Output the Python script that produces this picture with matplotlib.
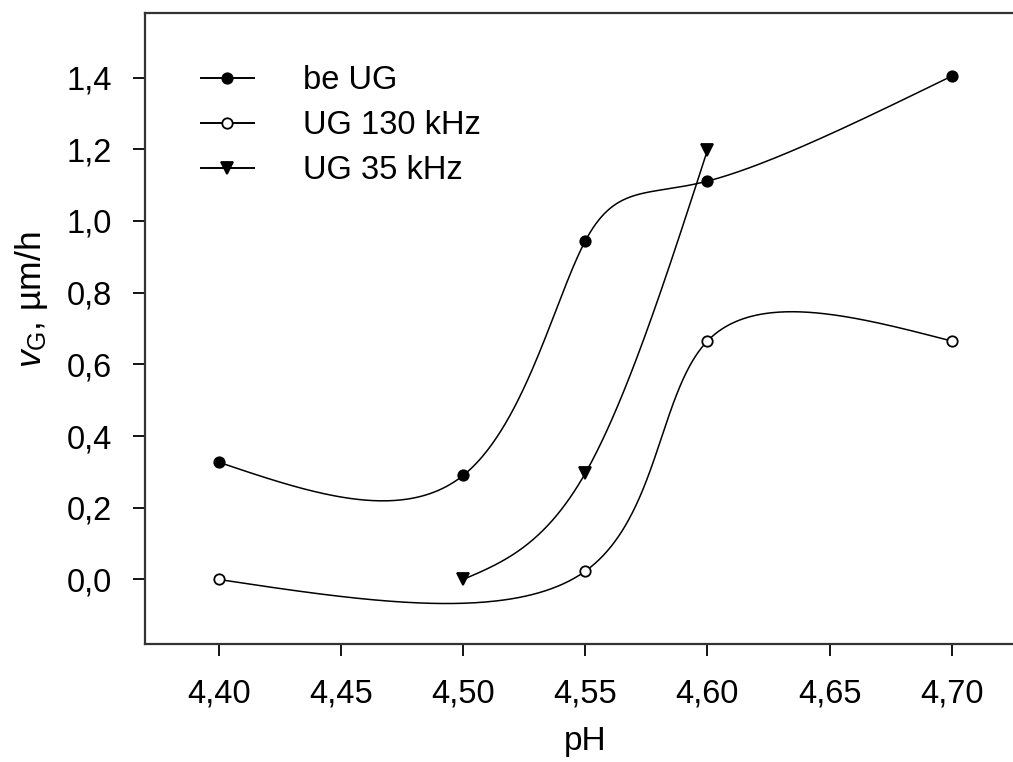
import numpy as np
import matplotlib
matplotlib.use("Agg")
import matplotlib.pyplot as plt
from matplotlib.ticker import FixedLocator, FixedFormatter

plt.rcParams['font.family'] = ['Liberation Sans', 'DejaVu Sans']
plt.rcParams['mathtext.fontset'] = 'custom'
plt.rcParams['mathtext.rm'] = 'Liberation Sans'
plt.rcParams['mathtext.it'] = 'Liberation Sans:italic'

# Growth rate versus pH for the three conditions
ph_be = [4.40, 4.50, 4.55, 4.60, 4.70]
v_be = [0.327, 0.29, 0.944, 1.111, 1.404]

ph_130 = [4.40, 4.55, 4.60, 4.70]
v_130 = [0.0, 0.023, 0.665, 0.665]

ph_35 = [4.50, 4.55, 4.60]
v_35 = [0.0, 0.296, 1.197]

labels = ['be UG', 'UG 130 kHz', 'UG 35 kHz']

x_ticks = [4.40, 4.45, 4.50, 4.55, 4.60, 4.65, 4.70]
x_tick_labels = ['4,40', '4,45', '4,50', '4,55', '4,60', '4,65', '4,70']
y_ticks = [0.0, 0.2, 0.4, 0.6, 0.8, 1.0, 1.2, 1.4]
y_tick_labels = ['0,0', '0,2', '0,4', '0,6', '0,8', '1,0', '1,2', '1,4']


def natural_second_derivs(t, y):
    m = len(t)
    h = np.diff(t)
    A = np.zeros((m, m))
    b = np.zeros(m)
    A[0, 0] = A[-1, -1] = 1.0
    for i in range(1, m - 1):
        A[i, i - 1] = h[i - 1]
        A[i, i] = 2 * (h[i - 1] + h[i])
        A[i, i + 1] = h[i]
        b[i] = 6 * ((y[i + 1] - y[i]) / h[i] - (y[i] - y[i - 1]) / h[i - 1])
    return np.linalg.solve(A, b)


def eval_spline(t, y, M, ts):
    idx = np.clip(np.searchsorted(t, ts) - 1, 0, len(t) - 2)
    t0, t1 = t[idx], t[idx + 1]
    hh = t1 - t0
    return (M[idx] * (t1 - ts) ** 3 / (6 * hh) + M[idx + 1] * (ts - t0) ** 3 / (6 * hh)
            + (y[idx] / hh - M[idx] * hh / 6) * (t1 - ts)
            + (y[idx + 1] / hh - M[idx + 1] * hh / 6) * (ts - t0))


def smooth_curve(x, y, n=400):
    """Parametric natural cubic spline (uniform parameter) through the points."""
    x = np.asarray(x, float)
    y = np.asarray(y, float)
    t = np.arange(len(x), dtype=float)
    ts = np.linspace(0, t[-1], n)
    xs = eval_spline(t, x, natural_second_derivs(t, x), ts)
    ys = eval_spline(t, y, natural_second_derivs(t, y), ts)
    return xs, ys


W, H = 1013, 762
fig = plt.figure(figsize=(W / 100, H / 100), dpi=100)
ax = fig.add_axes([145 / W, 1 - 644 / H, (1025 - 145) / W, (644 - 13) / H])

series = [
    (ph_be, v_be, dict(marker='o', markerfacecolor='black', markersize=7.5)),
    (ph_130, v_130, dict(marker='o', markerfacecolor='white', markersize=7.5)),
    (ph_35, v_35, dict(marker='v', markerfacecolor='black', markersize=8.5)),
]

handles = []
for (xv, yv, mk), lab in zip(series, labels):
    xs, ys = smooth_curve(xv, yv)
    ax.plot(xs, ys, color='black', lw=1.1, zorder=2)
    ax.plot(xv, yv, linestyle='none', color='black', markeredgecolor='black',
            markeredgewidth=1.3, zorder=3, **mk)
    h, = ax.plot([], [], color='black', lw=1.4, label=lab, markeredgecolor='black',
                 markeredgewidth=1.3, **mk)
    handles.append(h)

ax.set_xlim(4.3698, 4.73)
ax.set_ylim(-0.18, 1.58)

ax.xaxis.set_major_locator(FixedLocator(x_ticks))
ax.xaxis.set_major_formatter(FixedFormatter(x_tick_labels))
ax.yaxis.set_major_locator(FixedLocator(y_ticks))
ax.yaxis.set_major_formatter(FixedFormatter(y_tick_labels))

ax.tick_params(direction='out', length=8.5, width=1.3, labelsize=23.5, colors='black')
ax.tick_params(axis='x', pad=16.5)
ax.tick_params(axis='y', pad=15)
for s in ax.spines.values():
    s.set_linewidth(1.6)
    s.set_color('#333333')

ax.set_xlabel('pH', fontsize=24, labelpad=12)
ax.set_ylabel(r'$\mathit{v}_{\mathrm{G}}$, µm/h', fontsize=25.5)
ax.yaxis.set_label_coords((50 - 145) / 880, (644 - 300) / 631)

ax.legend(handles=handles, loc='upper left', bbox_to_anchor=((201 - 145) / 880, (644 - 65) / 631),
          frameon=False, fontsize=23.5, handlelength=1.62, handletextpad=1.5,
          labelspacing=0.43, borderaxespad=0, borderpad=0)

fig.savefig('out.png', dpi=100)
